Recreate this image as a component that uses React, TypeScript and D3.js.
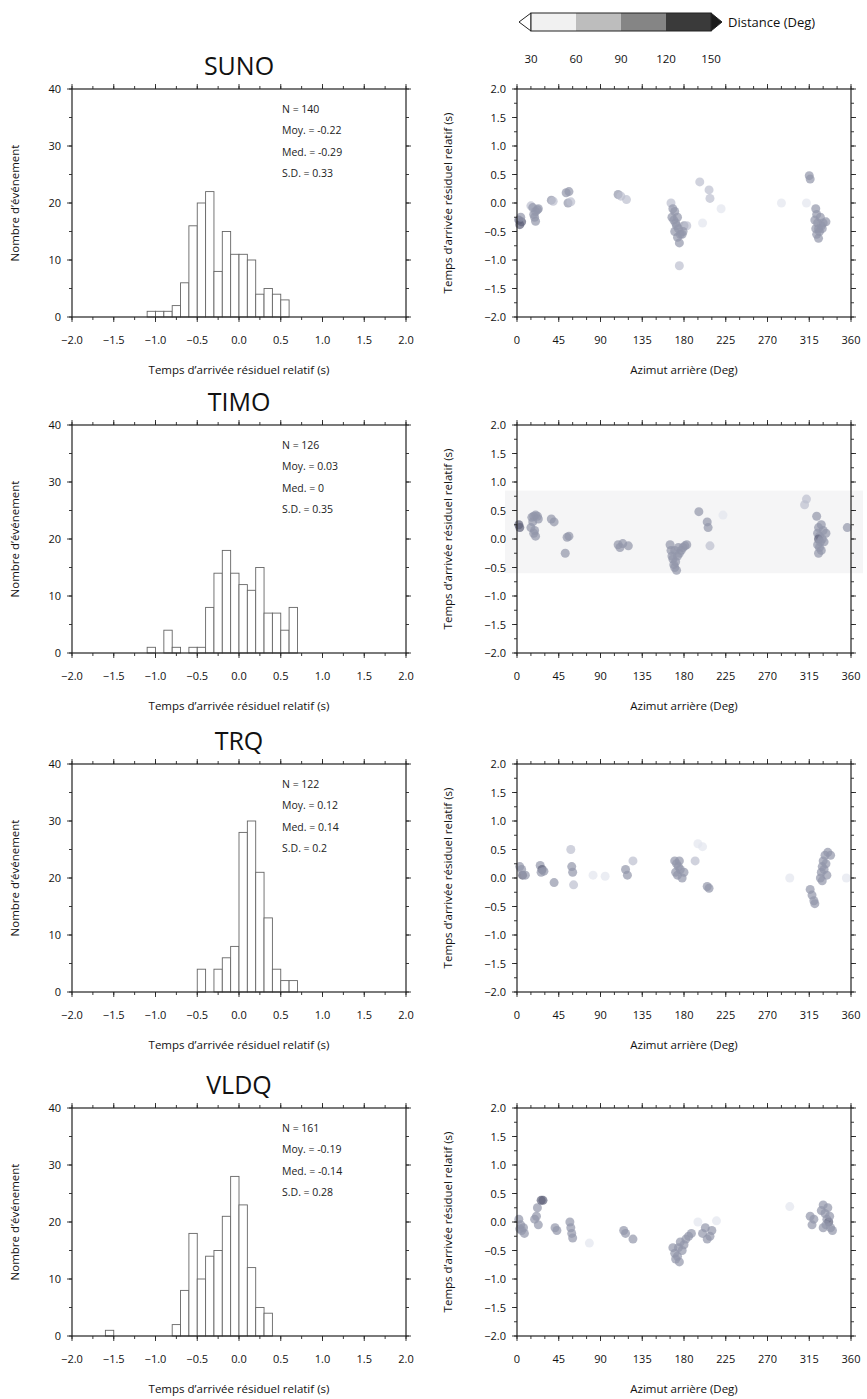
import React from "react";
import * as d3 from "d3";

// ---------------- DATA ----------------
const stations = ["SUNO", "TIMO", "TRQ", "VLDQ"];

// histogram bins: [left edge (s), count], bin width 0.1 s
const sunoHist: [number, number][] = [
  [-1.1, 1], [-1.0, 1], [-0.9, 1], [-0.8, 2], [-0.7, 6], [-0.6, 16], [-0.5, 20], [-0.4, 22],
  [-0.3, 8], [-0.2, 15], [-0.1, 11], [0.0, 11], [0.1, 10], [0.2, 4], [0.3, 5], [0.4, 4], [0.5, 3],
];
const timoHist: [number, number][] = [
  [-1.1, 1], [-0.9, 4], [-0.8, 1], [-0.6, 1], [-0.5, 1], [-0.4, 8], [-0.3, 14], [-0.2, 18],
  [-0.1, 14], [0.0, 12], [0.1, 11], [0.2, 15], [0.3, 7], [0.4, 7], [0.5, 4], [0.6, 8],
];
const trqHist: [number, number][] = [
  [-0.5, 4], [-0.3, 4], [-0.2, 6], [-0.1, 8], [0.0, 28], [0.1, 30], [0.2, 21], [0.3, 13],
  [0.4, 4], [0.5, 2], [0.6, 2],
];
const vldqHist: [number, number][] = [
  [-1.6, 1], [-0.8, 2], [-0.7, 8], [-0.6, 18], [-0.5, 10], [-0.4, 14], [-0.3, 15], [-0.2, 21],
  [-0.1, 28], [0.0, 23], [0.1, 12], [0.2, 5], [0.3, 4],
];

const statN = ["140", "126", "122", "161"];
const statMoy = ["-0.22", "0.03", "0.12", "-0.19"];
const statMed = ["-0.29", "0", "0.14", "-0.14"];
const statSD = ["0.33", "0.35", "0.2", "0.28"];

// scatter points: [back-azimuth (deg), relative residual (s), distance (deg)]
const sunoPts: [number, number, number][] = [
  [2, -0.3, 130], [3, -0.38, 130], [5, -0.33, 120], [4, -0.25, 110],
  [15, -0.05, 80], [17, -0.08, 90], [20, -0.15, 100], [19, -0.25, 100], [20, -0.32, 110], [22, -0.12, 100], [23, -0.1, 90], [18, -0.2, 100],
  [37, 0.05, 90], [39, 0.03, 80],
  [53, 0.18, 90], [56, 0.2, 90], [55, 0.0, 90], [58, 0.02, 80],
  [109, 0.15, 90], [112, 0.12, 80], [118, 0.06, 80],
  [166, 0.0, 70], [168, -0.1, 90], [170, -0.15, 100], [167, -0.25, 100], [169, -0.3, 110], [171, -0.35, 100], [173, -0.25, 100],
  [172, -0.4, 100], [174, -0.45, 100], [170, -0.5, 90], [176, -0.55, 100], [173, -0.6, 100], [175, -0.7, 100], [178, -0.55, 90],
  [180, -0.4, 90], [183, -0.4, 80], [179, -0.5, 90], [175, -1.1, 80],
  [197, 0.37, 80], [207, 0.23, 80], [208, 0.08, 80], [220, -0.1, 50], [200, -0.35, 45],
  [315, 0.48, 100], [316, 0.42, 100], [312, 0.0, 50], [285, 0.0, 45],
  [322, -0.1, 100], [323, -0.2, 100], [321, -0.3, 110], [324, -0.35, 100], [322, -0.45, 100], [323, -0.55, 110], [325, -0.62, 100],
  [326, -0.5, 100], [328, -0.4, 100], [330, -0.35, 90], [333, -0.33, 90], [327, -0.25, 100], [325, -0.45, 100], [329, -0.45, 90],
];
const timoPts: [number, number, number][] = [
  [2, 0.25, 135], [3, 0.2, 125],
  [16, 0.38, 110], [18, 0.4, 110], [20, 0.42, 110], [17, 0.3, 100], [15, 0.2, 90], [19, 0.15, 100], [20, 0.05, 100], [18, 0.1, 90], [22, 0.4, 110], [23, 0.35, 100],
  [37, 0.35, 90], [40, 0.3, 90],
  [54, 0.03, 100], [56, 0.05, 100], [52, -0.25, 90],
  [109, -0.1, 90], [111, -0.15, 90], [114, -0.08, 90], [120, -0.12, 90],
  [165, -0.1, 100], [166, -0.2, 100], [167, -0.3, 100], [168, -0.35, 110], [169, -0.45, 100], [170, -0.5, 100], [172, -0.55, 100],
  [171, -0.4, 100], [173, -0.3, 100], [175, -0.25, 100], [177, -0.2, 90], [179, -0.15, 90], [181, -0.12, 90], [183, -0.1, 90],
  [174, -0.15, 100], [170, -0.2, 100],
  [196, 0.48, 90], [205, 0.3, 90], [206, 0.2, 100], [222, 0.42, 50], [208, -0.12, 60],
  [312, 0.7, 70], [310, 0.6, 60],
  [323, 0.4, 100], [325, 0.2, 100], [328, 0.25, 100], [330, 0.15, 100], [324, 0.1, 110], [326, 0.05, 110], [325, 0.0, 120],
  [327, -0.05, 110], [324, -0.1, 100], [326, -0.15, 100], [328, -0.2, 100], [325, -0.25, 100], [329, 0.0, 100], [331, -0.05, 90], [333, 0.1, 90],
  [356, 0.2, 100],
];
const trqPts: [number, number, number][] = [
  [3, 0.2, 100], [6, 0.05, 120], [9, 0.05, 110], [5, 0.15, 100],
  [25, 0.22, 110], [27, 0.15, 120], [29, 0.12, 110], [26, 0.1, 100],
  [40, -0.08, 90],
  [58, 0.5, 80], [59, 0.2, 90], [60, 0.1, 90], [61, -0.12, 80],
  [82, 0.05, 45], [95, 0.03, 45],
  [117, 0.15, 90], [119, 0.05, 90], [125, 0.3, 80],
  [170, 0.3, 100], [172, 0.25, 100], [174, 0.2, 110], [171, 0.1, 110], [173, 0.05, 100], [176, 0.15, 110], [178, 0.0, 100],
  [180, 0.1, 100], [175, 0.3, 100],
  [195, 0.6, 50], [200, 0.55, 50], [192, 0.3, 60],
  [205, -0.15, 100], [207, -0.18, 100],
  [294, 0.0, 55],
  [316, -0.2, 90], [318, -0.3, 100], [320, -0.4, 100], [321, -0.45, 100],
  [327, 0.0, 100], [328, 0.1, 110], [329, 0.2, 110], [330, 0.3, 100], [332, 0.4, 100], [335, 0.45, 100], [338, 0.4, 100],
  [333, 0.25, 110], [331, 0.15, 110], [329, -0.05, 100], [334, 0.05, 100],
  [355, 0.0, 50],
];
const vldqPts: [number, number, number][] = [
  [2, 0.05, 100], [4, -0.05, 110], [5, -0.15, 110], [7, -0.1, 100], [8, -0.2, 100], [3, -0.12, 110],
  [19, 0.05, 100], [21, 0.1, 100], [22, 0.25, 110], [26, 0.38, 120], [28, 0.38, 120], [23, -0.05, 90],
  [41, -0.1, 90], [43, -0.15, 90],
  [57, 0.0, 100], [58, -0.1, 100], [59, -0.2, 90], [60, -0.28, 90],
  [78, -0.37, 55],
  [115, -0.15, 100], [117, -0.2, 100], [125, -0.3, 90],
  [168, -0.45, 100], [170, -0.55, 110], [171, -0.65, 110], [173, -0.6, 110], [175, -0.7, 100], [174, -0.45, 100],
  [176, -0.35, 100], [178, -0.5, 100], [180, -0.4, 100], [182, -0.3, 90], [185, -0.25, 90], [188, -0.2, 90],
  [200, -0.2, 100], [203, -0.1, 90], [205, -0.3, 100], [208, -0.25, 100], [210, -0.15, 90],
  [195, 0.0, 50], [215, 0.02, 50],
  [294, 0.27, 55],
  [316, 0.1, 100], [318, -0.05, 100], [320, 0.05, 90],
  [328, 0.2, 100], [330, 0.3, 100], [332, 0.15, 100], [334, 0.05, 110], [336, 0.0, 120], [338, -0.1, 100], [340, -0.15, 100],
  [333, -0.05, 110], [337, 0.1, 100], [335, 0.25, 100], [330, -0.1, 100],
];

const histData = [sunoHist, timoHist, trqHist, vldqHist];
const scatterData = [sunoPts, timoPts, trqPts, vldqPts];

// faint background band seen behind the TIMO scatter (residual range, s)
const bandLow = [null, -0.6, null, null];
const bandHigh = [null, 0.85, null, null];

const histXTicks = [-2.0, -1.5, -1.0, -0.5, 0.0, 0.5, 1.0, 1.5, 2.0];
const countTicks = [0, 10, 20, 30, 40];
const azTicks = [0, 45, 90, 135, 180, 225, 270, 315, 360];
const resTicks = [-2.0, -1.5, -1.0, -0.5, 0.0, 0.5, 1.0, 1.5, 2.0];

const distBreaks = [30, 60, 90, 120, 150];
const distBarColors = ["#f1f1f1", "#bdbdbd", "#858585", "#3a3a3a"];
const distPointColors = ["#e3e5ee", "#bcbfce", "#9195aa", "#5f637b"];

// ---------------- LAYOUT ----------------
const W = 867;
const H = 1399;
const LX0 = 72, LX1 = 406;
const RX0 = 517, RX1 = 851;
const rowTops = [89, 425, 764, 1108];
const PH = 228;
const FONT = "'Open Sans', 'DejaVu Sans', sans-serif";
const fmt1 = d3.format(".1f");

function FrameTicks({ x, y, xMajor, xMinor, yMajor, yMinor }: any) {
  const [x0, x1] = x.range();
  const [y0, y1] = y.range(); // y0 bottom, y1 top
  const els: any[] = [];
  const add = (k: string, a: number, b: number, c: number, d: number) =>
    els.push(<line key={k} x1={a} y1={b} x2={c} y2={d} stroke="#222" strokeWidth={0.9} />);
  xMinor.forEach((v: number, i: number) => {
    const px = x(v);
    add("xb" + i, px, y0, px, y0 + 3);
    add("xt" + i, px, y1, px, y1 - 3);
  });
  xMajor.forEach((v: number, i: number) => {
    const px = x(v);
    add("Xb" + i, px, y0, px, y0 + 5);
    add("Xt" + i, px, y1, px, y1 - 5);
  });
  yMinor.forEach((v: number, i: number) => {
    const py = y(v);
    add("yl" + i, x0, py, x0 - 3, py);
    add("yr" + i, x1, py, x1 + 3, py);
  });
  yMajor.forEach((v: number, i: number) => {
    const py = y(v);
    add("Yl" + i, x0, py, x0 - 5, py);
    add("Yr" + i, x1, py, x1 + 5, py);
  });
  return <g>{els}</g>;
}

function Histogram({ idx }: { idx: number }) {
  const top = rowTops[idx];
  const x = d3.scaleLinear().domain([-2, 2]).range([LX0, LX1]);
  const y = d3.scaleLinear().domain([0, 40]).range([top + PH, top]);
  const data = histData[idx];
  const statX = LX0 + 210;
  const lines = [
    "N = " + statN[idx],
    "Moy. = " + statMoy[idx],
    "Med. = " + statMed[idx],
    "S.D. = " + statSD[idx],
  ];
  return (
    <g>
      <text x={(LX0 + LX1) / 2} y={top - 14} textAnchor="middle" fontSize={25} fontFamily={FONT} fill="#111">
        {stations[idx]}
      </text>
      {data.map(([l, c], i) => (
        <rect key={i} x={x(l)} y={y(c)} width={x(l + 0.1) - x(l)} height={y(0) - y(c)}
          fill="#fff" stroke="#666" strokeWidth={0.9} />
      ))}
      <rect x={LX0} y={top} width={LX1 - LX0} height={PH} fill="none" stroke="#222" strokeWidth={1.2} />
      <FrameTicks x={x} y={y} xMajor={histXTicks} xMinor={d3.range(-2, 2.001, 0.25)}
        yMajor={countTicks} yMinor={d3.range(0, 41, 5)} />
      {histXTicks.map((v, i) => (
        <text key={i} x={x(v)} y={top + PH + 27} textAnchor="middle" fontSize={11} fontFamily={FONT} fill="#111">
          {fmt1(v)}
        </text>
      ))}
      {countTicks.map((v, i) => (
        <text key={i} x={LX0 - 11} y={y(v) + 4} textAnchor="end" fontSize={11} fontFamily={FONT} fill="#111">
          {v}
        </text>
      ))}
      <text x={(LX0 + LX1) / 2} y={top + PH + 57} textAnchor="middle" fontSize={11.5} fontFamily={FONT} fill="#111">
        Temps d’arrivée résiduel relatif (s)
      </text>
      <text transform={`translate(${19},${top + PH / 2}) rotate(-90)`} textAnchor="middle" fontSize={11.5}
        fontFamily={FONT} fill="#111">
        Nombre d’événement
      </text>
      {lines.map((t, i) => (
        <text key={i} x={statX} y={top + 24 + i * 21.4} fontSize={10.5} fontFamily={FONT} fill="#222">
          {t}
        </text>
      ))}
    </g>
  );
}

function Scatter({ idx }: { idx: number }) {
  const top = rowTops[idx];
  const x = d3.scaleLinear().domain([0, 360]).range([RX0, RX1]);
  const y = d3.scaleLinear().domain([-2, 2]).range([top + PH, top]);
  const color = d3.scaleThreshold<number, string>().domain(distBreaks.slice(1, 4)).range(distPointColors);
  const pts = scatterData[idx];
  const bl = bandLow[idx];
  const bh = bandHigh[idx];
  return (
    <g>
      {bl !== null && bh !== null && (
        <rect x={RX0 - 12} y={y(bh as number)} width={RX1 - RX0 + 24} height={y(bl as number) - y(bh as number)}
          fill="#f5f5f6" />
      )}
      {pts.map(([az, r, d], i) => (
        <circle key={i} cx={x(az)} cy={y(r)} r={4.5} fill={color(d)} fillOpacity={0.7} />
      ))}
      <rect x={RX0} y={top} width={RX1 - RX0} height={PH} fill="none" stroke="#222" strokeWidth={1.2} />
      <FrameTicks x={x} y={y} xMajor={azTicks} xMinor={d3.range(0, 361, 15)}
        yMajor={resTicks} yMinor={d3.range(-2, 2.001, 0.25)} />
      {azTicks.map((v, i) => (
        <text key={i} x={x(v)} y={top + PH + 27} textAnchor="middle" fontSize={11} fontFamily={FONT} fill="#111">
          {v}
        </text>
      ))}
      {resTicks.map((v, i) => (
        <text key={i} x={RX0 - 11} y={y(v) + 4} textAnchor="end" fontSize={11} fontFamily={FONT} fill="#111">
          {fmt1(v)}
        </text>
      ))}
      <text x={(RX0 + RX1) / 2} y={top + PH + 57} textAnchor="middle" fontSize={11.5} fontFamily={FONT} fill="#111">
        Azimut arrière (Deg)
      </text>
      <text transform={`translate(${452},${top + PH / 2}) rotate(-90)`} textAnchor="middle" fontSize={11.5}
        fontFamily={FONT} fill="#111">
        Temps d’arrivée résiduel relatif (s)
      </text>
    </g>
  );
}

function ColorBar() {
  const cx = d3.scaleLinear().domain([30, 150]).range([531, 711]);
  const y0 = 13, y1 = 31, ym = (y0 + y1) / 2;
  return (
    <g>
      <path d={`M${cx(30)},${y0} L${cx(30) - 12},${ym} L${cx(30)},${y1} Z`} fill="#fff" stroke="#222" strokeWidth={1} />
      <path d={`M${cx(150)},${y0} L${cx(150) + 11},${ym} L${cx(150)},${y1} Z`} fill="#1a1a1a" stroke="#222" strokeWidth={1} />
      {distBreaks.slice(0, 4).map((d, i) => (
        <rect key={i} x={cx(d)} y={y0} width={cx(distBreaks[i + 1]) - cx(d)} height={y1 - y0}
          fill={distBarColors[i]} stroke="none" />
      ))}
      <rect x={cx(30)} y={y0} width={cx(150) - cx(30)} height={y1 - y0} fill="none" stroke="#222" strokeWidth={1} />
      {distBreaks.map((d, i) => (
        <text key={i} x={cx(d)} y={63} textAnchor="middle" fontSize={11.5} fontFamily={FONT} fill="#111">
          {d}
        </text>
      ))}
      <text x={cx(150) + 17} y={ym + 4.5} fontSize={13} fontFamily={FONT} fill="#111">
        Distance (Deg)
      </text>
    </g>
  );
}

export default function App() {
  return (
    <svg width={W} height={H} viewBox={`0 0 ${W} ${H}`}
      style={{ position: "absolute", left: 0, top: 0, background: "#fff" }}>
      <rect x={0} y={0} width={W} height={H} fill="#fff" />
      <ColorBar />
      {stations.map((s, i) => (
        <g key={s}>
          <Histogram idx={i} />
          <Scatter idx={i} />
        </g>
      ))}
    </svg>
  );
}
